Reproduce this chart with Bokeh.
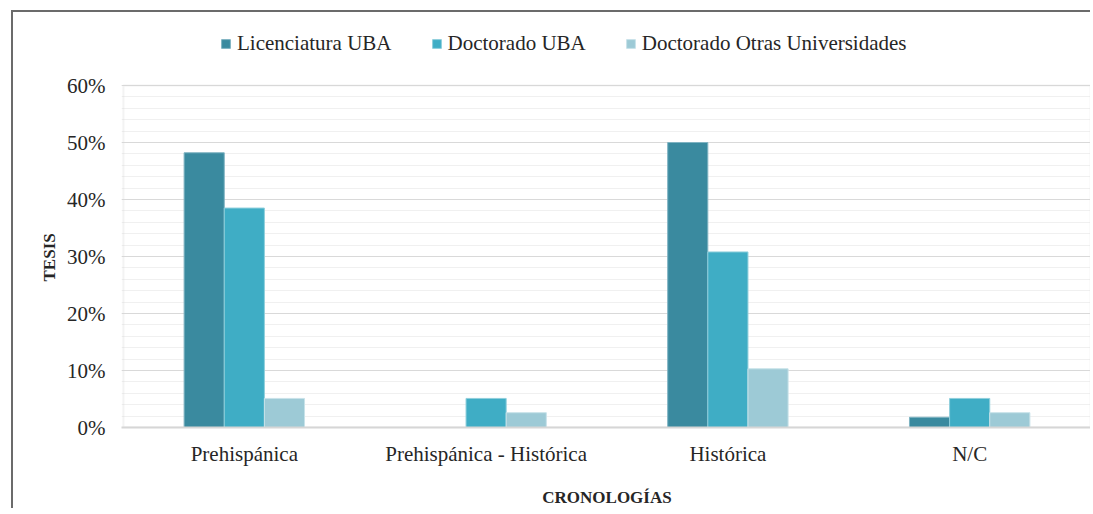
from bokeh.plotting import figure
from bokeh.models import (ColumnDataSource, NumeralTickFormatter, Legend, LegendItem,
                          FixedTicker, InlineStyleSheet, BoxAnnotation, Title)
from bokeh.transform import dodge
from bokeh.embed import file_html
from bokeh.resources import INLINE

categories = ["Prehispánica", "Prehispánica - Histórica", "Histórica", "N/C"]
licenciatura_uba = [0.482, 0.0, 0.500, 0.018]
doctorado_uba = [0.385, 0.051, 0.308, 0.051]
doctorado_otras = [0.051, 0.026, 0.103, 0.026]
series_names = ["Licenciatura UBA", "Doctorado UBA", "Doctorado Otras Universidades"]
colors = ["#3A8A9F", "#3FADC5", "#9DCAD6"]
y_ticks = [0, 0.1, 0.2, 0.3, 0.4, 0.5, 0.6]
y_max = 0.6

FONT = "Liberation Serif"
TXT = "#262626"

src = ColumnDataSource(dict(cat=categories, lic=licenciatura_uba,
                            doc=doctorado_uba, otr=doctorado_otras))

# frame extends above 60% to hold the legend; grid/ticks stop at 60%
p = figure(x_range=categories, y_range=(0, 0.7193), width=1079, height=498,
           output_backend="svg", toolbar_location=None,
           min_border_left=108, min_border_right=0, min_border_top=5,
           min_border_bottom=83)
p.x_range.range_padding = 0.008
p.x_range.range_padding_units = "absolute"
p.stylesheets = [InlineStyleSheet(css=":host { border-left: 2px solid #6B6B6B; "
                                      "border-top: 2px solid #6B6B6B; "
                                      "margin-left: 11px; margin-top: 10px; }")]

bw = 0.166
r1 = p.vbar(x=dodge("cat", -bw, range=p.x_range), top="lic", width=bw, source=src,
            fill_color=colors[0], line_color="#7FB3C2", line_width=1)
r2 = p.vbar(x=dodge("cat", 0, range=p.x_range), top="doc", width=bw, source=src,
            fill_color=colors[1], line_color="#8FCFDC", line_width=1)
r3 = p.vbar(x=dodge("cat", bw, range=p.x_range), top="otr", width=bw, source=src,
            fill_color=colors[2], line_color="#C8E2E9", line_width=1)

# plot-area border (0% .. 60%, full category span)
p.add_layout(BoxAnnotation(left=0, right=len(categories), bottom=0, top=y_max,
                           fill_alpha=0, line_color="#D6D6D6", line_width=2,
                           level="underlay"))

# axes
p.yaxis.ticker = FixedTicker(ticks=y_ticks,
                             minor_ticks=[i * 0.02 for i in range(31)])
p.yaxis.formatter = NumeralTickFormatter(format="0%")
for ax in (p.xaxis, p.yaxis):
    ax.major_label_text_font = FONT
    ax.major_label_text_font_size = "21px"
    ax.major_label_text_color = TXT
    ax.major_tick_line_color = None
    ax.minor_tick_line_color = None
    ax.axis_label_text_font = FONT
    ax.axis_label_text_font_style = "bold"
    ax.axis_label_text_font_size = "17px"
    ax.axis_label_text_color = TXT
p.yaxis.axis_line_color = None
p.yaxis.major_label_standoff = 10
p.xaxis.axis_line_color = "#D6D6D6"
p.xaxis.axis_line_width = 2
p.xaxis.major_label_standoff = 8
p.xaxis.axis_label = "CRONOLOGÍAS"
p.xaxis.axis_label_standoff = 19

p.add_layout(Title(text="TESIS", align="left", offset=146, standoff=12,
                   text_font=FONT, text_font_style="bold", text_font_size="17px",
                   text_color=TXT), "left")

p.xgrid.grid_line_color = None
p.ygrid.grid_line_color = "#D9D9D9"
p.ygrid.minor_grid_line_color = "#F0F0F0"
p.outline_line_color = None
p.background_fill_color = "white"
p.border_fill_color = "white"

# legend (inside the frame's top band)
legend = Legend(items=[LegendItem(label=series_names[0], renderers=[r1]),
                       LegendItem(label=series_names[1], renderers=[r2]),
                       LegendItem(label=series_names[2], renderers=[r3])],
                orientation="horizontal", location=(99, 371),
                label_text_font=FONT, label_text_font_size="21px",
                label_text_color=TXT, glyph_width=11, glyph_height=11,
                label_standoff=6, spacing=39, padding=0, margin=0,
                border_line_color=None, background_fill_alpha=0)
p.add_layout(legend, "center")

open("out.html", "w").write(file_html(p, INLINE))
